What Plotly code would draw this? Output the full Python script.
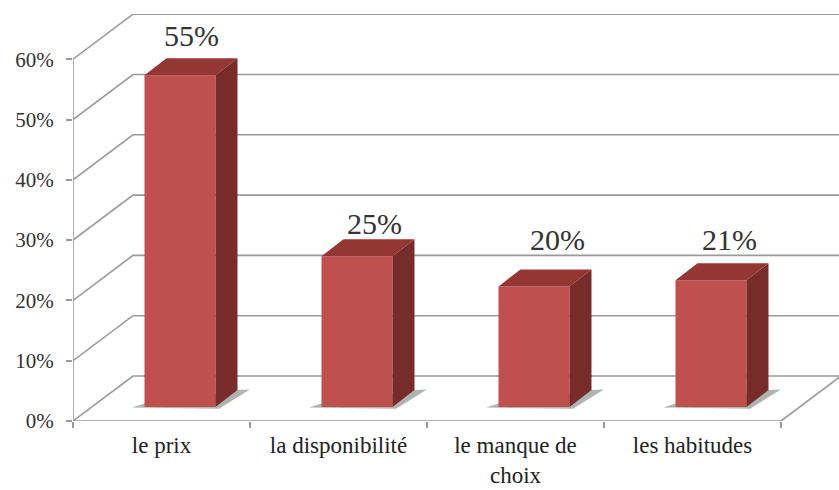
import plotly.graph_objects as go

categories = ['le prix', 'la disponibilité', 'le manque de<br>choix', 'les habitudes']
values = [55, 25, 20, 21]
value_ticks = [0, 10, 20, 30, 40, 50, 60]

# label nudges in pixels, the labels are not placed evenly on the original
label_xshift = [0, 6, 12, 7]
label_yshift = [23, 16, 30, 24]

FONT = 'Liberation Serif'
GRID = '#9a9a9a'
FRONT = '#c0504d'
TOP = '#943632'
SIDE = '#772c2a'
SHADOW = 'rgba(120,130,120,0.6)'

# plot area in pixels, body margin is removed at the end
W, H = 839, 490
LEFT, TOP_PX, BOTTOM_PX = 73, 14, 421
CAT_PX = 177.0
PCT_PX = 6.03

x_max = (W - LEFT) / CAT_PX
y_max = (BOTTOM_PX - TOP_PX) / PCT_PX

# chart depth of the walls and of the bars, in axis units
wall_dx, wall_dy = 60 / CAT_PX, 45 / PCT_PX
bar_dx, bar_dy = 22 / CAT_PX, 17 / PCT_PX
bar_width = 71 / CAT_PX
bar_shift, bar_base = 18.5 / CAT_PX, 14 / PCT_PX

centers = [i + 0.5 for i in range(len(categories))]
bar_x = [c + bar_shift for c in centers]

fig = go.Figure()


def line_shape(points, width=1.6):
    path = 'M' + ' L'.join(f'{x},{y}' for x, y in points)
    return dict(type='path', path=path, xref='x', yref='y', layer='below',
                line=dict(color=GRID, width=width))


shapes = []
# walls: one line per tick going back from the axis and along the back wall
for v in value_ticks:
    shapes.append(line_shape([(0, v), (wall_dx, v + wall_dy), (x_max, v + wall_dy)]))
# front axis and floor edges
n = len(categories)
shapes.append(line_shape([(0, 0), (0, value_ticks[-1])]))
shapes.append(line_shape([(0, 0), (n, 0), (n + wall_dx, wall_dy)]))

# soft shadows on the floor
for x, v in zip(bar_x, values):
    l = x - bar_width / 2
    r = x + bar_width / 2
    pts = [(l - 0.07, bar_base - 0.1), (l, bar_base + 0.6), (r + bar_dx, bar_base + bar_dy),
           (r + bar_dx + 0.07, bar_base + bar_dy + 0.1), (r + 0.02, bar_base - 0.3)]
    shapes.append(dict(type='path', xref='x', yref='y', layer='below',
                       path='M' + ' L'.join(f'{a},{b}' for a, b in pts) + ' Z',
                       fillcolor=SHADOW, line=dict(width=0)))

# front faces
fig.add_trace(go.Bar(x=bar_x, y=values, base=bar_base, width=bar_width,
                     marker=dict(color=FRONT, line=dict(width=0)), showlegend=False))

# top and side faces
for x, v in zip(bar_x, values):
    l = x - bar_width / 2
    r = x + bar_width / 2
    t = v + bar_base
    fig.add_trace(go.Scatter(x=[l, l + bar_dx, r + bar_dx, r, l],
                             y=[t, t + bar_dy, t + bar_dy, t, t],
                             mode='lines', fill='toself', fillcolor=TOP,
                             line=dict(width=0), showlegend=False))
    fig.add_trace(go.Scatter(x=[r, r + bar_dx, r + bar_dx, r, r],
                             y=[t, t + bar_dy, bar_base + bar_dy, bar_base, t],
                             mode='lines', fill='toself', fillcolor=SIDE,
                             line=dict(width=0), showlegend=False))

# value labels above the bars
annotations = []
for i, (x, v) in enumerate(zip(bar_x, values)):
    annotations.append(dict(x=x + bar_dx / 2, y=v + bar_base + bar_dy, text=f'{v}%',
                            showarrow=False, xanchor='center', yanchor='middle',
                            xshift=label_xshift[i], yshift=label_yshift[i],
                            font=dict(family=FONT, size=30, color='#333333')))

fig.update_layout(
    width=W, height=H,
    margin=dict(l=LEFT, r=0, t=TOP_PX, b=H - BOTTOM_PX, autoexpand=False),
    paper_bgcolor='white', plot_bgcolor='white',
    shapes=shapes, annotations=annotations,
    showlegend=False,
    xaxis=dict(range=[0, x_max], showgrid=False, zeroline=False, showline=False,
               tickmode='array', tickvals=centers, ticktext=categories, ticks='',
               ticklabelstandoff=8,
               tickfont=dict(family=FONT, size=23, color='#222222'),
               minor=dict(tickmode='array', tickvals=list(range(n + 1)), ticks='outside',
                          ticklen=6, tickcolor=GRID, tickwidth=1.6)),
    yaxis=dict(range=[0, y_max], showgrid=False, zeroline=False, showline=False,
               tickmode='array', tickvals=value_ticks,
               ticktext=[f'{v}%' for v in value_ticks], ticks='outside',
               ticklen=6, tickcolor=GRID, tickwidth=1.6, ticklabelstandoff=8,
               tickfont=dict(family=FONT, size=21, color='#333333')),
)

fig.write_html('out.html', config=dict(displayModeBar=False),
               post_script="document.body.style.margin='0';document.body.style.overflow='hidden';")
